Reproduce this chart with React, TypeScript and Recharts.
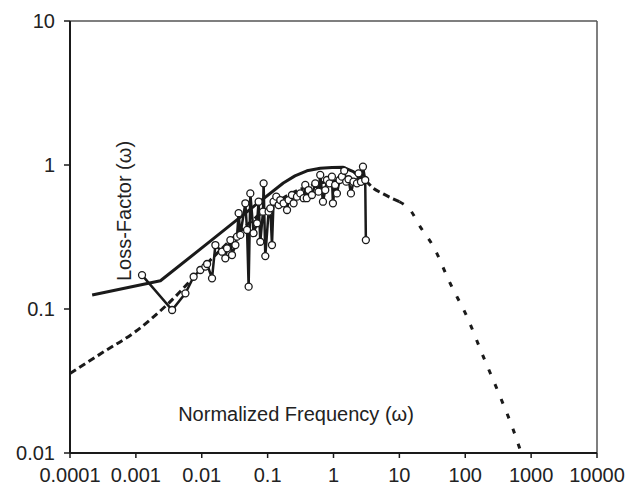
import React from 'react';
import { LineChart, Line, XAxis, YAxis, ReferenceLine } from 'recharts';

// axis ticks
const xTicks = [0.0001, 0.001, 0.01, 0.1, 1, 10, 100, 1000, 10000];
const xTickLabels = ['0.0001', '0.001', '0.01', '0.1', '1', '10', '100', '1000', '10000'];
const yTicks = [0.01, 0.1, 1, 10];
const yTickLabels = ['0.01', '0.1', '1', '10'];

// measured loss factor (circles)
const measFreq = [
  0.00124, 0.00355, 0.00565, 0.00753, 0.00952, 0.01135, 0.01205, 0.01432, 0.0161, 0.0203,
  0.0228, 0.0242, 0.0272, 0.0288, 0.0324, 0.0343, 0.0363, 0.0385, 0.0459, 0.0487,
  0.0515, 0.0546, 0.0612, 0.069, 0.073, 0.0774, 0.0851, 0.0869, 0.0922, 0.1035,
  0.1098, 0.1165, 0.123, 0.1355, 0.147, 0.1557, 0.1747, 0.197, 0.208, 0.234,
  0.248, 0.279, 0.313, 0.352, 0.373, 0.393, 0.419, 0.471, 0.529, 0.593,
  0.629, 0.692, 0.75, 0.795, 0.871, 0.946, 0.98, 1.06, 1.127, 1.235,
  1.343, 1.455, 1.56, 1.69, 1.84, 2.01, 2.27, 2.4, 2.61, 2.8,
  3.03, 3.1,
];
const measLoss = [
  0.172, 0.0984, 0.1285, 0.1675, 0.1866, 0.197, 0.2054, 0.1633, 0.278, 0.25,
  0.225, 0.264, 0.301, 0.237, 0.278, 0.318, 0.463, 0.327, 0.542, 0.354,
  0.143, 0.635, 0.336, 0.394, 0.556, 0.293, 0.474, 0.746, 0.233, 0.474,
  0.5, 0.278, 0.556, 0.603, 0.527, 0.571, 0.542, 0.487, 0.571, 0.619,
  0.542, 0.603, 0.635, 0.588, 0.727, 0.588, 0.67, 0.619, 0.746, 0.653,
  0.853, 0.556, 0.67, 0.787, 0.746, 0.83, 0.542, 0.727, 0.635, 0.787,
  0.83, 0.912, 0.766, 0.796, 0.635, 0.766, 0.746, 0.875, 0.764, 0.973,
  0.787, 0.301,
];

// fitted curve (solid)
const fitFreq = [0.000217, 0.00236, 0.0135, 0.0546, 0.173, 0.26, 0.395, 0.63, 0.95, 1.41, 2.0, 2.85];
const fitLoss = [0.125, 0.157, 0.296, 0.494, 0.75, 0.84, 0.912, 0.948, 0.962, 0.963, 0.9, 0.787];

// model curve (dashed), rising part and tail
const modelFreq = [0.0001, 0.000316, 0.001, 0.00316, 0.01, 0.0316, 0.1, 0.316, 1, 2, 3, 4, 5.7, 10];
const modelLoss = [0.0357, 0.05, 0.07, 0.11, 0.19, 0.32, 0.5, 0.68, 0.775, 0.79, 0.776, 0.69, 0.63, 0.556];
const tailFreq = [10, 14.6, 20.7, 32.9, 58.9, 106, 188, 339, 537, 708];
const tailLoss = [0.556, 0.487, 0.373, 0.271, 0.151, 0.0885, 0.0467, 0.0246, 0.01445, 0.01];

const toPts = (xs: number[], ys: number[]) => xs.map((x, i) => ({ x, y: ys[i] }));
const measData = toPts(measFreq, measLoss);
const fitData = toPts(fitFreq, fitLoss);
const modelData = toPts(modelFreq, modelLoss);
const tailData = toPts(tailFreq, tailLoss);

const font = '"Liberation Sans", Arial, sans-serif';
const ink = '#1a1a1a';

export default function App() {
  return (
    <div style={{ position: 'absolute', left: 0, top: 0, width: 629, height: 488, background: '#fff' }}>
      <LineChart
        width={629}
        height={488}
        margin={{ top: 21, right: 32, left: 0, bottom: 0 }}
        style={{ fontFamily: font }}
      >
        <XAxis
          dataKey="x"
          type="number"
          scale="log"
          domain={[0.0001, 10000]}
          ticks={xTicks}
          tickFormatter={(v: number) => xTickLabels[xTicks.indexOf(v)] ?? String(v)}
          allowDataOverflow
          height={35}
          axisLine={{ stroke: ink, strokeWidth: 2 }}
          tickLine={{ stroke: ink, strokeWidth: 1.5 }}
          tickSize={5}
          tickMargin={10}
          tick={{ fill: '#222', fontSize: 20 }}
          interval={0}
        />
        <YAxis
          type="number"
          scale="log"
          domain={[0.01, 10]}
          ticks={yTicks}
          tickFormatter={(v: number) => yTickLabels[yTicks.indexOf(v)] ?? String(v)}
          allowDataOverflow
          width={70}
          axisLine={{ stroke: ink, strokeWidth: 2 }}
          tickLine={{ stroke: ink, strokeWidth: 1.5 }}
          tickSize={6}
          tickMargin={9}
          tick={{ fill: '#222', fontSize: 20 }}
          interval={0}
        />
        <ReferenceLine y={10} stroke="#555" strokeWidth={1.5} />
        <ReferenceLine x={10000} stroke="#555" strokeWidth={1.5} />
        <Line
          data={modelData}
          dataKey="y"
          type="monotone"
          stroke={ink}
          strokeWidth={3}
          strokeDasharray="7 4"
          dot={false}
          activeDot={false}
          isAnimationActive={false}
        />
        <Line
          data={tailData}
          dataKey="y"
          type="monotone"
          stroke={ink}
          strokeWidth={3}
          strokeDasharray="5 11"
          dot={false}
          activeDot={false}
          isAnimationActive={false}
        />
        <Line
          data={fitData}
          dataKey="y"
          type="linear"
          stroke={ink}
          strokeWidth={3}
          strokeLinejoin="round"
          dot={false}
          activeDot={false}
          isAnimationActive={false}
        />
        <Line
          data={measData}
          dataKey="y"
          type="linear"
          stroke={ink}
          strokeWidth={2.5}
          dot={{ r: 3.5, fill: '#fff', stroke: ink, strokeWidth: 1.3 }}
          activeDot={false}
          isAnimationActive={false}
        />
      </LineChart>
      <svg
        width={629}
        height={488}
        style={{ position: 'absolute', left: 0, top: 0, pointerEvents: 'none', fontFamily: font }}
      >
        <text
          x={0}
          y={0}
          transform="translate(124,211) rotate(-90)"
          textAnchor="middle"
          dominantBaseline="central"
          fontSize={20}
          fill="#222"
        >
          Loss-Factor (ω)
        </text>
        <text x={296} y={414} textAnchor="middle" dominantBaseline="central" fontSize={20} fill="#222">
          Normalized Frequency (ω)
        </text>
      </svg>
    </div>
  );
}
